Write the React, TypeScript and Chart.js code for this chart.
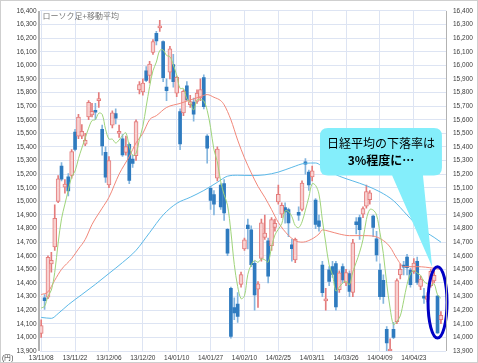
import React, { useEffect, useRef } from 'react';
import { Chart, registerables } from 'chart.js';

Chart.register(...registerables);

// ---- data ----
const dates = [
  '13/11/08','13/11/11','13/11/12','13/11/13','13/11/14','13/11/15','13/11/18','13/11/19','13/11/20','13/11/21',
  '13/11/22','13/11/25','13/11/26','13/11/27','13/11/28','13/11/29','13/12/02','13/12/03','13/12/04','13/12/05',
  '13/12/06','13/12/09','13/12/10','13/12/11','13/12/12','13/12/13','13/12/16','13/12/17','13/12/18','13/12/19',
  '13/12/20','13/12/24','13/12/25','13/12/26','13/12/27','13/12/30','14/01/06','14/01/07','14/01/08','14/01/09',
  '14/01/10','14/01/14','14/01/15','14/01/16','14/01/17','14/01/20','14/01/21','14/01/22','14/01/23','14/01/24',
  '14/01/27','14/01/28','14/01/29','14/01/30','14/01/31','14/02/03','14/02/04','14/02/05','14/02/06','14/02/07',
  '14/02/10','14/02/12','14/02/13','14/02/14','14/02/17','14/02/18','14/02/19','14/02/20','14/02/21','14/02/24',
  '14/02/25','14/02/26','14/02/27','14/02/28','14/03/03','14/03/04','14/03/05','14/03/06','14/03/07','14/03/10',
  '14/03/11','14/03/12','14/03/13','14/03/14','14/03/17','14/03/18','14/03/19','14/03/20','14/03/24','14/03/25',
  '14/03/26','14/03/27','14/03/28','14/03/31','14/04/01','14/04/02','14/04/03','14/04/04','14/04/07','14/04/08',
  '14/04/09','14/04/10','14/04/11','14/04/14','14/04/15','14/04/16','14/04/17','14/04/18','14/04/21','14/04/22',
  '14/04/23','14/04/24','14/04/25','14/04/28','14/04/30','14/05/01','14/05/02','14/05/07','14/05/08',
];

const opens = [
  14030,14290,14295,14540,14665,15000,15260,15105,15180,15190,
  15510,15480,15480,15420,15620,15635,15670,15740,15530,15360,
  15120,15560,15645,15500,15460,15360,15420,15310,15335,15820,
  15805,15960,15925,16095,16235,16275,16175,15840,15950,16005,
  15795,15660,15650,15850,15710,15730,15735,15760,15910,15480,
  15095,15050,15170,15120,15130,14795,14360,14220,14245,14390,
  14650,14825,14790,14545,14355,14580,14735,14710,14675,14808,
  14995,14905,14955,14940,14680,14570,14920,14940,15290,15216,
  15180,15010,14856,14531,14268,14496,14520,14543,14350,14520,
  14400,14470,14330,14850,14880,14905,14965,15012,14892,14724,
  14495,14420,14060,13900,14060,14115,14460,14525,14590,14495,
  14484,14560,14375,14303,14280,14380,14415,14303,14130,
];
const highs = [
  14130,14315,14600,14625,14975,15190,15285,15160,15205,15380,
  15530,15640,15565,15500,15740,15720,15720,15800,15560,15400,
  15330,15665,15680,15560,15490,15480,15430,15340,15600,15880,
  15900,15990,16030,16190,16250,16330,16180,15900,16140,16080,
  15920,15680,15820,15880,15780,15760,15820,15900,15930,15490,
  15110,15080,15400,15130,15160,14800,14370,14290,14330,14480,
  14730,14870,14820,14560,14410,14870,14900,14730,14880,14870,
  15120,14990,14990,14950,14720,14730,14960,15150,15315,15230,
  15260,15020,14900,14560,14360,14520,14560,14560,14490,14540,
  14500,14490,14720,14880,14900,14960,15120,15080,14900,14780,
  14540,14460,14080,13990,14110,14430,14540,14560,14610,14510,
  14580,14590,14450,14360,14330,14500,14510,14310,14190,
];
const lows = [
  14000,14205,14285,14480,14640,14990,15150,15060,15040,15170,
  15370,15460,15460,15410,15600,15620,15600,15690,15340,15140,
  15100,15540,15570,15470,15330,15340,15130,15250,15300,15790,
  15780,15880,15870,16080,16150,16250,15880,15740,15900,15840,
  15770,15380,15630,15740,15690,15590,15720,15740,15680,15280,
  14940,14900,15150,14940,14860,14600,13995,14130,14110,14370,
  14640,14650,14520,14200,14220,14560,14720,14400,14640,14780,
  14980,14880,14840,14740,14560,14550,14860,14930,15200,15080,
  15150,14800,14780,14300,14200,14380,14440,14200,14330,14400,
  14380,14300,14300,14760,14720,14880,14950,14980,14740,14560,
  14280,14250,13885,13885,13990,14100,14430,14460,14460,14370,
  14470,14390,14350,14250,14260,14370,14400,14030,14100,
];
const closes = [
  14087,14270,14589,14567,14876,15166,15164,15127,15076,15366,
  15382,15619,15515,15449,15727,15661,15655,15750,15408,15177,
  15300,15650,15611,15515,15342,15403,15153,15279,15587,15859,
  15870,15889,16010,16174,16179,16291,15909,15814,16121,15880,
  15912,15422,15809,15747,15734,15641,15796,15821,15696,15391,
  15006,14980,15384,14960,14915,14619,14008,14180,14155,14462,
  14718,14800,14535,14313,14393,14843,14767,14450,14866,14838,
  15052,14971,14923,14841,14652,14721,14898,15135,15274,15120,
  15224,14830,14816,14328,14278,14411,14463,14224,14475,14423,
  14477,14338,14696,14828,14792,14946,15072,15063,14809,14607,
  14300,14300,13960,13910,14000,14418,14500,14516,14512,14388,
  14546,14405,14429,14288,14304,14485,14457,14033,14163,
];

// 5-day moving average (read per day)
const ma5 = [
  14216,14229,14302,14348,14478,14694,14872,14980,15082,15180,
  15223,15314,15392,15466,15538,15594,15601,15648,15640,15530,
  15458,15457,15429,15451,15484,15504,15405,15338,15353,15456,
  15550,15697,15843,15960,16024,16109,16113,16073,16063,16003,
  15927,15830,15829,15754,15725,15671,15745,15748,15738,15669,
  15542,15379,15291,15144,15049,14972,14777,14536,14375,14285,
  14305,14463,14534,14566,14552,14577,14570,14553,14664,14753,
  14795,14835,14930,14925,14888,14822,14807,14849,14936,15030,
  15130,15117,15053,14864,14695,14533,14459,14341,14370,14399,
  14412,14387,14482,14552,14626,14720,14867,14940,14936,14899,
  14770,14616,14395,14215,14094,14118,14158,14269,14389,14467,
  14492,14473,14456,14411,14394,14382,14393,14313,14288,
];

// 25-day moving average, [day index, value]
const ma25 = [
  [0,14315],[2,14335],[4,14420],[6,14500],[9,14580],[11,14650],[13,14720],[15,14830],
  [18,14950],[20,15030],[23,15200],[26,15330],[28,15430],[30,15500],[32,15600],[34,15630],
  [37,15690],[41,15720],[44,15745],[47,15770],[49,15785],[51,15765],[53,15740],[54,15710],
  [56,15600],[58,15450],[60,15320],[62,15210],[64,15110],[66,15030],[68,14940],[70,14845],
  [73,14750],[75,14712],[77,14700],[79,14712],[82,14760],[83,14790],[85,14780],[88,14760],
  [91,14748],[95,14748],[98,14745],[101,14712],[103,14664],[105,14580],[107,14520],[111,14520],
  [116,14508],[118,14500],
];

// 75-day moving average, [day index, value]
const ma75 = [
  [0,14147],[3,14140],[5,14175],[8,14240],[12,14315],[16,14390],[20,14470],[24,14550],
  [28,14640],[32,14770],[36,14900],[40,14985],[44,15030],[48,15080],[52,15140],[55,15185],
  [58,15192],[62,15190],[66,15195],[70,15215],[74,15250],[78,15280],[81,15282],[84,15235],
  [88,15185],[92,15150],[96,15115],[100,15070],[104,15005],[108,14900],[112,14800],[116,14735],
  [118,14700],
];

const yMin = 13900;
const yMax = 16400;
const yStep = 100;
const labelEvery = 10;

const titleText = 'ローソク足+移動平均';
const unitText = '(円)';
const noteLines = ['日経平均の下落率は', '3%程度に…'];

// ---- styles ----
const GRID = '#dde4f3';
const AXIS = '#b2b2b2';
const TICK = '#3a3a3a';
const UP_LINE = '#e47c7c';
const UP_FILL = '#f7d0d0';
const DOWN = '#2f7bbf';
const DOWN_WICK = '#84b5de';
const MA5_C = '#9fd47a';
const MA25_C = '#f2887a';
const MA75_C = '#5cb9e8';
const NOTE_FILL = '#84eefb';
const RING = '#0000c4';
const TICK_FONT = '"Liberation Sans", Arial, sans-serif';
const JP_FONT = '"Noto Sans CJK JP", "Noto Sans", sans-serif';

// annotation anchors in data coordinates (day index / price)
const note = { left: 82.3, right: 118.3, top: 15540, bottom: 15190, baseL: 103.6, baseR: 112.7, tipX: 115.4, tipY: 14520 };
const ring = { cx: 117.0, halfW: 2.8, top: 14520, bottom: 13995 };

const up = closes.map((c, i) => c >= opens[i]);

const overlay = {
  id: 'overlay',
  beforeDraw(chart: any) {
    const { ctx, width, height } = chart;
    ctx.save();
    ctx.fillStyle = '#ffffff';
    ctx.fillRect(0, 0, width, height);
    ctx.restore();
  },
  afterDatasetsDraw(chart: any) {
    const { ctx } = chart;
    const xs = chart.scales.x;
    const ys = chart.scales.y;
    const X = (v: number) => xs.getPixelForValue(v);
    const Y = (v: number) => ys.getPixelForValue(v);
    ctx.save();
    // callout bubble
    const l = X(note.left), r = X(note.right), t = Y(note.top), b = Y(note.bottom);
    const rad = 8;
    ctx.fillStyle = NOTE_FILL;
    ctx.beginPath();
    ctx.moveTo(l + rad, t);
    ctx.lineTo(r - rad, t);
    ctx.quadraticCurveTo(r, t, r, t + rad);
    ctx.lineTo(r, b - rad);
    ctx.quadraticCurveTo(r, b, r - rad, b);
    ctx.lineTo(X(note.baseR), b);
    ctx.lineTo(X(note.tipX), Y(note.tipY));
    ctx.lineTo(X(note.baseL), b);
    ctx.lineTo(l + rad, b);
    ctx.quadraticCurveTo(l, b, l, b - rad);
    ctx.lineTo(l, t + rad);
    ctx.quadraticCurveTo(l, t, l + rad, t);
    ctx.closePath();
    ctx.fill();
    const cx = (l + r) / 2;
    const cy = (t + b) / 2;
    ctx.fillStyle = '#000';
    ctx.textAlign = 'center';
    ctx.textBaseline = 'middle';
    ctx.font = `12px ${JP_FONT}`;
    ctx.fillText(noteLines[0], cx, cy - 8.5);
    ctx.font = `bold 12px ${JP_FONT}`;
    ctx.fillText(noteLines[1], cx, cy + 8.5);
    // ellipse
    const ex = X(ring.cx);
    const erx = X(ring.cx + ring.halfW) - ex;
    const et = Y(ring.top), eb = Y(ring.bottom);
    ctx.strokeStyle = RING;
    ctx.lineWidth = 3;
    ctx.beginPath();
    ctx.ellipse(ex, (et + eb) / 2, erx, (eb - et) / 2, 0, 0, Math.PI * 2);
    ctx.stroke();
    ctx.restore();
  },
  afterDraw(chart: any) {
    const { ctx, chartArea, width, height } = chart;
    ctx.save();
    ctx.strokeStyle = AXIS;
    ctx.lineWidth = 2;
    ctx.beginPath();
    ctx.moveTo(chartArea.left - 0.5, chartArea.top);
    ctx.lineTo(chartArea.left - 0.5, chartArea.bottom);
    ctx.stroke();
    ctx.lineWidth = 1;
    ctx.beginPath();
    ctx.moveTo(Math.round(chartArea.right) + 0.5, chartArea.top);
    ctx.lineTo(Math.round(chartArea.right) + 0.5, chartArea.bottom);
    ctx.stroke();
    ctx.strokeStyle = '#cfcfcf';
    ctx.strokeRect(0.5, 0.5, width - 1, height - 1);
    ctx.fillStyle = '#777';
    ctx.font = `8px ${JP_FONT}`;
    ctx.textAlign = 'left';
    ctx.textBaseline = 'middle';
    ctx.fillText(titleText, chartArea.left + 3, chartArea.top + 5);
    ctx.fillStyle = TICK;
    ctx.font = `6.5px ${TICK_FONT}`;
    ctx.fillText(unitText, 2, chartArea.bottom + 7);
    ctx.restore();
  },
};

function buildConfig(): any {
  const labels = [...dates, ''];
  const pts = (arr: number[][]) => arr.map(([i, v]) => ({ x: dates[i], y: v }));
  const lineBase = { type: 'line', pointRadius: 0, borderWidth: 1, fill: false, order: 0, yAxisID: 'y' };
  const yTicks = (padding: number) => ({
    stepSize: yStep,
    autoSkip: false,
    maxTicksLimit: 40,
    padding,
    color: TICK,
    font: { family: TICK_FONT, size: 6.5 },
    callback: (v: any) => Number(v).toLocaleString('en-US'),
  });
  return {
    type: 'bar',
    data: {
      labels,
      datasets: [
        { ...lineBase, label: '5日', data: ma5, borderColor: MA5_C, tension: 0.35 },
        { ...lineBase, label: '25日', data: pts(ma25), borderColor: MA25_C, cubicInterpolationMode: 'monotone' },
        { ...lineBase, label: '75日', data: pts(ma75), borderColor: MA75_C, cubicInterpolationMode: 'monotone' },
        {
          type: 'bar', label: 'wick', order: 3, grouped: false, barThickness: 1,
          data: lows.map((lo, i) => [lo, highs[i]]),
          backgroundColor: up.map((u) => (u ? UP_LINE : DOWN_WICK)),
        },
        {
          type: 'bar', label: 'up', order: 2, grouped: false, barThickness: 4, minBarLength: 2,
          data: opens.map((o, i) => (up[i] ? [o, closes[i]] : null)),
          backgroundColor: UP_FILL, borderColor: UP_LINE, borderWidth: 1, borderSkipped: false,
        },
        {
          type: 'bar', label: 'down', order: 2, grouped: false, barThickness: 3, minBarLength: 2,
          data: opens.map((o, i) => (!up[i] ? [o, closes[i]] : null)),
          backgroundColor: DOWN, borderWidth: 0,
        },
      ],
    },
    options: {
      animation: false,
      responsive: false,
      maintainAspectRatio: false,
      devicePixelRatio: 1,
      layout: { padding: { top: 4, left: 0, right: 0, bottom: 0 } },
      plugins: { legend: { display: false }, tooltip: { enabled: false } },
      scales: {
        x: {
          type: 'category',
          offset: true,
          border: { display: false },
          grid: {
            offset: false,
            drawTicks: false,
            color: (c: any) => (c.index % labelEvery === 0 && c.index < dates.length ? GRID : 'rgba(0,0,0,0)'),
          },
          ticks: {
            autoSkip: false,
            maxRotation: 0,
            minRotation: 0,
            padding: 3,
            color: TICK,
            font: { family: TICK_FONT, size: 6.5 },
            callback: (_v: any, i: number) => (i % labelEvery === 0 && i < dates.length ? dates[i] : ''),
          },
          afterFit: (s: any) => { s.height = 12; },
        },
        y: {
          position: 'left', min: yMin, max: yMax,
          border: { display: false },
          grid: { color: GRID, drawTicks: false },
          ticks: yTicks(3),
          afterFit: (s: any) => { s.width = 39.5; },
        },
        y2: {
          position: 'right', min: yMin, max: yMax,
          border: { display: false },
          grid: { drawOnChartArea: false, drawTicks: false },
          ticks: yTicks(7),
          afterFit: (s: any) => { s.width = 32; },
        },
      },
    },
    plugins: [overlay],
  };
}

export default function App() {
  const ref = useRef<HTMLCanvasElement>(null);
  useEffect(() => {
    if (!ref.current) return;
    const chart = new Chart(ref.current, buildConfig());
    return () => chart.destroy();
  }, []);
  return (
    <div style={{ position: 'fixed', left: 0, top: 0, width: 478, height: 363, background: '#fff' }}>
      <canvas ref={ref} width={478} height={363} style={{ display: 'block', width: 478, height: 363 }} />
    </div>
  );
}
